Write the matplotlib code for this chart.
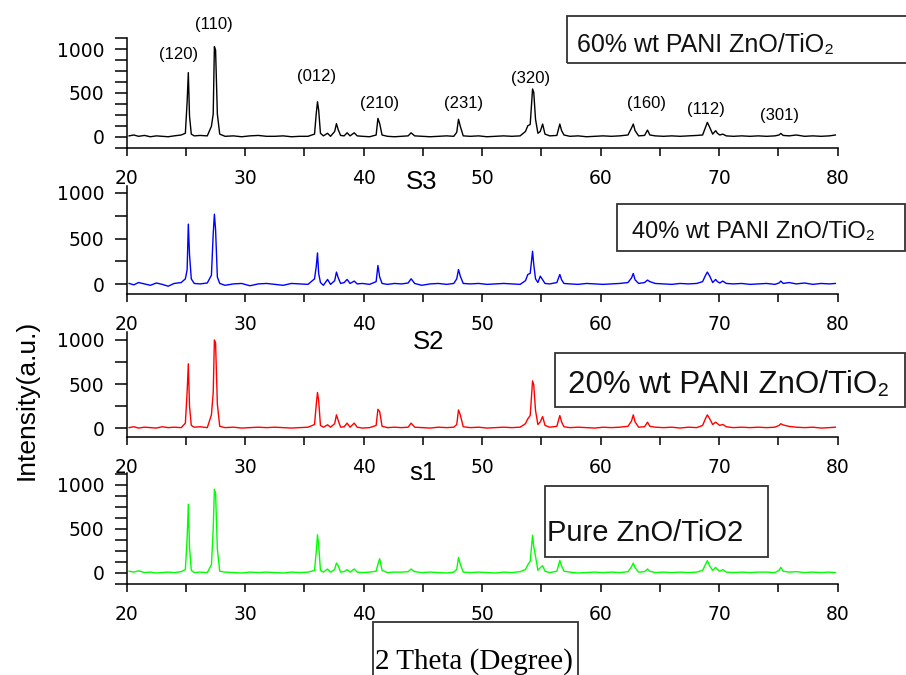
import matplotlib
matplotlib.use('Agg')
import matplotlib.pyplot as plt
from matplotlib.patches import Rectangle

# ---------------- data ----------------
two_theta = [
    20.2, 20.6, 21.0, 21.5, 22.0, 22.5, 23.0, 23.5, 24.0, 24.6,
    24.95, 25.1, 25.2, 25.3, 25.45, 25.7, 26.2, 26.8, 27.15, 27.3,
    27.4, 27.5, 27.65, 27.85, 28.3, 29.0, 29.7, 30.4, 31.1, 31.8,
    32.5, 33.2, 33.9, 34.6, 35.3, 35.85, 36.0, 36.1, 36.2, 36.35,
    36.6, 36.95, 37.2, 37.55, 37.7, 37.85, 38.05, 38.35, 38.6, 38.85,
    39.2, 39.45, 39.9, 40.5, 41.05, 41.2, 41.35, 41.55, 42.0, 42.6,
    43.2, 43.75, 44.0, 44.3, 44.9, 45.6, 46.3, 47.0, 47.6, 47.85,
    48.0, 48.15, 48.4, 49.0, 49.7, 50.4, 51.1, 51.8, 52.5, 53.2,
    53.65, 53.85, 54.05, 54.25, 54.35, 54.5, 54.7, 54.9, 55.1, 55.3,
    55.7, 56.3, 56.55, 56.7, 56.9, 57.4, 58.1, 58.8, 59.5, 60.2,
    60.9, 61.6, 62.3, 62.6, 62.75, 62.9, 63.2, 63.7, 63.95, 64.15,
    64.6, 65.3, 66.0, 66.7, 67.4, 68.1, 68.6, 68.85, 69.0, 69.2,
    69.45, 69.7, 69.85, 70.05, 70.3, 70.6, 71.2, 71.9, 72.6, 73.3,
    74.0, 74.7, 75.05, 75.2, 75.4, 75.9, 76.5, 77.2, 77.9, 78.6,
    79.3, 79.8,
]

int_60pani = [
    10, 20, 5, 15, 0, 10, 5, 0, 10, 20,
    40, 400, 733, 240, 30, 10, 15, 10, 120, 260,
    1030, 990, 260, 30, 5, 10, 0, 10, 15, 5,
    5, 10, 0, 5, 5, 30, 270, 400, 305, 40,
    10, 40, 5, 60, 150, 80, 15, 10, 45, 10,
    45, 10, 5, 0, 20, 210, 150, 20, 5, 0,
    5, 10, 45, 10, 5, 0, 5, 10, 5, 50,
    200, 120, 10, 5, 10, 0, 5, 10, 5, 10,
    60, 126, 140, 546, 508, 200, 40, 60, 145, 30,
    10, 15, 145, 70, 20, 5, 10, 0, 5, 10,
    5, 10, 20, 100, 145, 70, 10, 15, 76, 20,
    10, 5, 10, 5, 10, 15, 20, 110, 164, 107,
    30, 69, 40, 20, 30, 10, 5, 10, 5, 10,
    5, 10, 20, 38, 15, 10, 20, 5, 10, 5,
    10, 20,
]

int_40pani = [
    10, -5, 20, 5, -10, 15, 0, -20, 10, 20,
    60, 160, 657, 325, 60, 10, 5, 15, 100, 550,
    765, 596, 80, 10, -10, 5, 10, -15, 5, 10,
    0, -10, 10, 5, 0, 60, 200, 343, 120, 20,
    -10, 54, 0, 40, 134, 72, 10, 20, 54, 10,
    36, 5, 10, 0, 30, 206, 80, 10, 0, 10,
    5, 15, 61, 10, -10, 5, 10, 0, 10, 60,
    162, 90, 10, 5, 10, 0, 5, 10, 5, 0,
    40, 108, 120, 361, 217, 60, 20, 90, 50, 10,
    5, 20, 108, 50, 10, 5, 0, 10, 5, 0,
    5, 10, 20, 70, 119, 50, 10, 20, 47, 30,
    10, 5, 0, 10, 5, 10, 30, 100, 134, 90,
    20, 54, 30, 15, 36, 10, 5, 10, 0, 5,
    10, 0, 15, 36, 10, 20, 5, 15, 0, 10,
    5, 10,
]

int_20pani = [
    5, 15, 0, 10, 5, 0, 15, 5, 10, 5,
    56, 412, 730, 251, 30, 10, 15, 5, 150, 400,
    1000, 966, 273, 20, 5, 10, 0, 5, 10, 5,
    10, 5, 0, 5, 10, 40, 273, 404, 311, 30,
    10, 37, 10, 50, 150, 86, 10, 15, 56, 10,
    56, 10, 0, 5, 30, 213, 187, 20, 5, 10,
    5, 10, 56, 10, 5, 0, 10, 5, 10, 40,
    206, 150, 15, 5, 10, 0, 5, 10, 5, 10,
    50, 105, 142, 536, 490, 199, 40, 70, 131, 30,
    10, 20, 142, 70, 15, 5, 10, 5, 0, 10,
    5, 10, 20, 80, 150, 70, 10, 15, 67, 20,
    10, 5, 10, 0, 10, 5, 30, 110, 150, 105,
    40, 67, 50, 30, 41, 15, 5, 10, 5, 10,
    5, 10, 30, 49, 35, 19, 10, 5, 10, 0,
    5, 10,
]

int_pure = [
    20, 10, 25, 5, 10, 0, 5, 10, 5, 15,
    40, 396, 781, 294, 30, 5, 10, 5, 94, 500,
    951, 906, 272, 20, 10, 5, 0, 10, 5, 10,
    5, 0, 10, 5, 10, 30, 250, 434, 321, 30,
    10, 45, 10, 40, 113, 83, 10, 15, 38, 10,
    45, 10, 5, 10, 20, 100, 162, 30, 5, 10,
    10, 15, 45, 15, 5, 10, 5, 0, 10, 40,
    177, 100, 10, 5, 10, 5, 0, 10, 5, 15,
    40, 94, 132, 430, 300, 189, 30, 60, 83, 20,
    5, 20, 143, 80, 20, 10, 0, 5, 10, 5,
    10, 5, 15, 70, 113, 60, 10, 15, 45, 20,
    5, 10, 5, 10, 5, 10, 30, 100, 140, 80,
    30, 64, 40, 20, 38, 10, 5, 10, 5, 10,
    10, 5, 30, 64, 20, 10, 15, 5, 10, 5,
    10, 5,
]

sample_tags = ['S3', 'S2', 's1']
box_labels = ['60% wt PANI ZnO/TiO\u2082', '40% wt PANI ZnO/TiO\u2082',
              '20% wt PANI ZnO/TiO\u2082', 'Pure ZnO/TiO2']
hkl_labels = ['(120)', '(110)', '(012)', '(210)', '(231)', '(320)', '(160)', '(112)', '(301)']
hkl_2theta = [24.36, 27.39, 35.98, 41.32, 48.41, 54.04, 63.88, 68.89, 75.13]
hkl_ypos = [935, 1278, 694, 382, 382, 668, 382, 313, 248]
x_ticks = [20, 30, 40, 50, 60, 70, 80]
y_ticks = [0, 500, 1000]

# ---------------- figure ----------------
W, H = 906, 675
fig = plt.figure(figsize=(W / 100, H / 100), dpi=100)

def fx(px):
    return px / W

def fy(py):
    return 1 - py / H

x_left, x_right = 126.7, 837.7
# (top px, bottom px, ymin, ymax, minor step)
panel_geom = [
    (38.3, 148.3, -132, 1125, 125),
    (186.0, 294.0, -105, 1073, 250),
    (331.7, 436.7, -98, 1094, 250),
    (473.0, 584.0, -125, 1136, 125),
]
series = [int_60pani, int_40pani, int_20pani, int_pure]
colors = ['#000000', '#0000ff', '#ff0000', '#00ff00']

axes = []
for (top, bot, ylo, yhi, mstep), yvals, col in zip(panel_geom, series, colors):
    ax = fig.add_axes([fx(x_left), fy(bot), (x_right - x_left) / W, (bot - top) / H])
    ax.plot(two_theta, yvals, color=col, lw=1.0)
    ax.set_xlim(20, 80)
    ax.set_ylim(ylo, yhi)
    ax.spines['top'].set_visible(False)
    ax.spines['right'].set_visible(False)
    for s in ('left', 'bottom'):
        ax.spines[s].set_linewidth(1.1)
    ax.set_xticks(x_ticks)
    ax.set_xticks([25, 35, 45, 55, 65, 75], minor=True)
    ax.set_yticks(y_ticks)
    minors = [v for v in range(-250, 1251, mstep) if ylo <= v <= yhi and v not in y_ticks]
    ax.set_yticks(minors, minor=True)
    ax.tick_params(axis='x', which='both', direction='out', length=6, width=1.1, pad=9)
    ax.tick_params(axis='y', which='both', direction='out', length=9, width=1.1, pad=7)
    for lab in ax.get_xticklabels() + ax.get_yticklabels():
        lab.set_fontfamily('DejaVu Sans')
        lab.set_fontsize(13.5)
    ax.patch.set_alpha(0)
    axes.append(ax)

# hkl annotations on the top panel
for lab, xx, yy in zip(hkl_labels, hkl_2theta, hkl_ypos):
    axes[0].text(xx, yy, lab, ha='center', va='center', fontsize=12,
                 family=['Liberation Sans', 'DejaVu Sans'], clip_on=False)

# sample tags
tag_pos = [(421.7, 181.7), (428.3, 341.7), (423.3, 473.3)]
for t, (px, py) in zip(sample_tags, tag_pos):
    fig.text(fx(px), fy(py), t, ha='center', va='center', fontsize=18.5,
             family=['Liberation Sans', 'DejaVu Sans'])

# boxes with labels
box_geom = [
    ((566.7, 16.0, 920.0, 62.7), (576.7, 51.7), 18),
    ((617.3, 204.0, 904.5, 250.7), (631.7, 238.3), 17),
    ((555.0, 353.3, 904.5, 406.7), (568.0, 393.3), 22.5),
    ((545.0, 486.0, 768.3, 557.3), (546.7, 540.7), 21),
]
for (x0, y0, x1, y1), (tx, ty), fs in box_geom:
    fig.patches.append(Rectangle((fx(x0), fy(y1)), (x1 - x0) / W, (y1 - y0) / H,
                                 transform=fig.transFigure, fill=False,
                                 edgecolor='#333333', lw=1.3))
for lab, (_, (tx, ty), fs) in zip(box_labels, box_geom):
    fig.text(fx(tx), fy(ty), lab, ha='left', va='baseline', fontsize=fs,
             family=['Liberation Sans', 'DejaVu Sans'], color='#111111')

# x-axis title box
fig.patches.append(Rectangle((fx(373.3), fy(690)), (578.3 - 373.3) / W, (690 - 621.7) / H,
                             transform=fig.transFigure, fill=False,
                             edgecolor='#333333', lw=1.3))
fig.text(fx(375), fy(668.3), '2 Theta (Degree)', ha='left', va='baseline', fontsize=21,
         family=['Liberation Serif', 'DejaVu Serif'])

# y-axis title
fig.text(fx(26.7), fy(400), 'Intensity(a.u.)', rotation=90, ha='center', va='center',
         fontsize=19, family=['Liberation Sans', 'DejaVu Sans'])

fig.savefig('out.png', dpi=100, facecolor='white')
